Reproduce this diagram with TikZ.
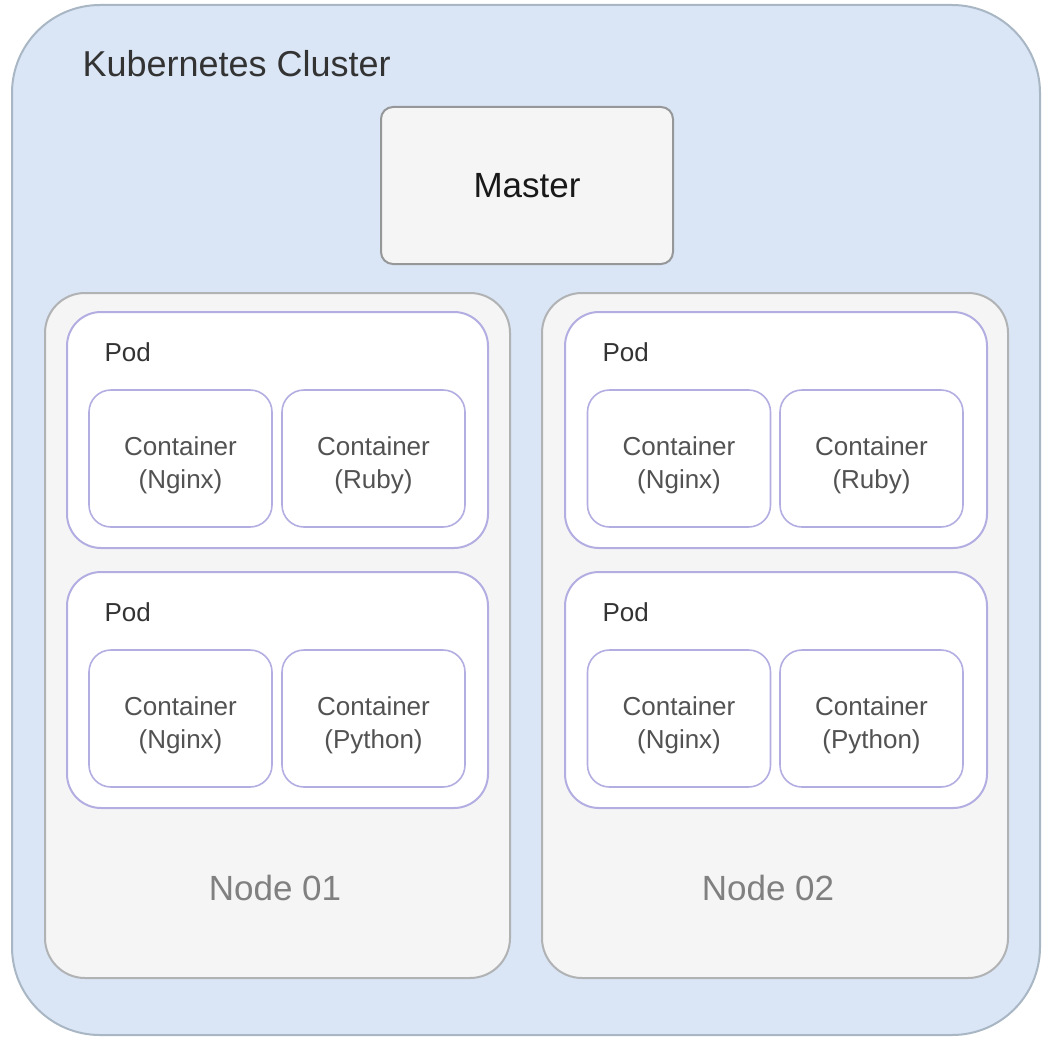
\documentclass[tikz,border=0pt]{standalone}
\usepackage{fontspec}
\setmainfont{Liberation Sans}
\definecolor{clusterfill}{HTML}{DAE6F6}
\definecolor{clusterline}{HTML}{A9B6C4}
\definecolor{nodefill}{HTML}{F5F5F5}
\definecolor{nodeline}{HTML}{B0B2B4}
\definecolor{podline}{HTML}{B3AEE2}
\definecolor{txtdark}{HTML}{333333}
\definecolor{txtgray}{HTML}{808080}
\tikzset{
  box/.style={rectangle, inner sep=0pt, outer sep=0pt},
  clusterbox/.style={box, fill=clusterfill, draw=clusterline, line width=2pt, rounded corners=88pt},
  masterbox/.style={box, fill=nodefill, draw=nodeline!85!black, line width=2pt, rounded corners=12pt},
  workerbox/.style={box, fill=nodefill, draw=nodeline, line width=2pt, rounded corners=40pt},
  podbox/.style={box, fill=white, draw=podline, line width=2pt, rounded corners=34pt, minimum width=421pt, minimum height=236pt},
  ctrbox/.style={box, fill=white, draw=podline, line width=1.6pt, rounded corners=22pt, minimum width=183pt, minimum height=137pt},
  ctrtext/.style={align=center, text=txtdark!85!white, font=\fontsize{26}{33}\selectfont},
  podtext/.style={anchor=west, text=txtdark, font=\fontsize{26}{30}\selectfont},
  nodetext/.style={text=txtgray, font=\fontsize{35}{40}\selectfont},
}
\begin{document}
\begin{tikzpicture}[x=1pt,y=-1pt]
\useasboundingbox (0,0) rectangle (1046,1046);
\fill[white] (0,0) rectangle (1046,1046);
% cluster
\node[clusterbox, minimum width=1028pt, minimum height=1030pt] (cluster) at (526,520) {};
\node[anchor=west, text=txtdark, font=\fontsize{36}{40}\selectfont] (clusterlbl) at (79,64) {Kubernetes Cluster};
% master
\node[masterbox, minimum width=292pt, minimum height=157pt, text=black!90, font=\fontsize{35}{40}\selectfont] (master) at (527,185.5) {Master};
% worker nodes
\node[workerbox, minimum width=465pt, minimum height=685pt] (n1) at (277.5,635.5) {};
\node[workerbox, minimum width=466pt, minimum height=685pt] (n2) at (775,635.5) {};
\node[nodetext] (n1lbl) at (275,888) {Node 01};
\node[nodetext] (n2lbl) at (768,888) {Node 02};
% pods node 1
\node[podbox] (p11) at (277.5,430) {};
\node[podbox] (p12) at (277.5,690) {};
\node[podtext] (p11lbl) at (101,352) {Pod};
\node[podtext] (p12lbl) at (101,612) {Pod};
% pods node 2
\node[podbox, minimum width=422pt] (p21) at (776,430) {};
\node[podbox, minimum width=422pt] (p22) at (776,690) {};
\node[podtext] (p21lbl) at (599,352) {Pod};
\node[podtext] (p22lbl) at (599,612) {Pod};
% containers node 1
\node[ctrbox] (c111) at (180.5,458.5) {};
\node[ctrbox] (c112) at (373.5,458.5) {};
\node[ctrbox] (c121) at (180.5,718.5) {};
\node[ctrbox] (c122) at (373.5,718.5) {};
% containers node 2
\node[ctrbox] (c211) at (679,458.5) {};
\node[ctrbox] (c212) at (871.5,458.5) {};
\node[ctrbox] (c221) at (679,718.5) {};
\node[ctrbox] (c222) at (871.5,718.5) {};
% container texts
\node[ctrtext] (t111) at ([yshift=-7pt]c111.center) {Container\\(Nginx)};
\node[ctrtext] (t112) at ([yshift=-7pt]c112.center) {Container\\(Ruby)};
\node[ctrtext] (t121) at ([yshift=-7pt]c121.center) {Container\\(Nginx)};
\node[ctrtext] (t122) at ([yshift=-7pt]c122.center) {Container\\(Python)};
\node[ctrtext] (t211) at ([yshift=-7pt]c211.center) {Container\\(Nginx)};
\node[ctrtext] (t212) at ([yshift=-7pt]c212.center) {Container\\(Ruby)};
\node[ctrtext] (t221) at ([yshift=-7pt]c221.center) {Container\\(Nginx)};
\node[ctrtext] (t222) at ([yshift=-7pt]c222.center) {Container\\(Python)};
\end{tikzpicture}
\end{document}
